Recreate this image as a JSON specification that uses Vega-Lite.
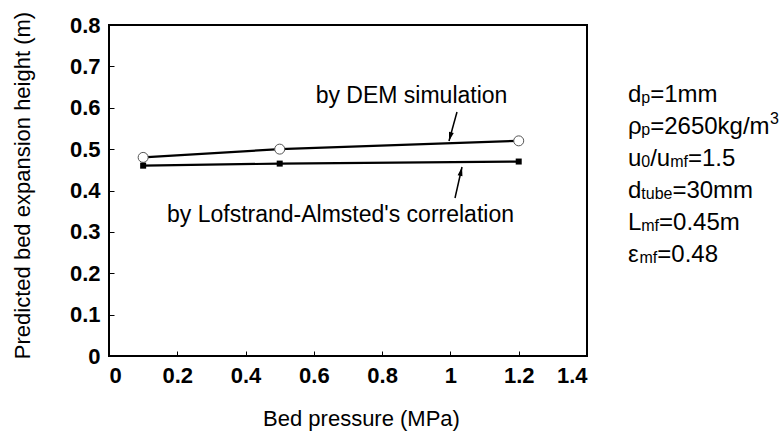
{
  "$schema": "https://vega.github.io/schema/vega-lite/v6.json",
  "width": 478,
  "height": 331,
  "autosize": {"type": "none"},
  "padding": {"left": 109, "top": 25, "right": 193, "bottom": 76},
  "background": "white",
  "config": {
    "font": "Liberation Sans",
    "view": {"stroke": "black", "strokeWidth": 2},
    "axis": {
      "domain": false,
      "grid": false,
      "labelFont": "Liberation Sans",
      "labelFontWeight": "bold",
      "labelFontSize": 22,
      "labelColor": "black",
      "titleFont": "Liberation Sans",
      "titleFontSize": 22,
      "titleFontWeight": "normal",
      "titleColor": "black"
    }
  },
  "datasets": {
    "series": [
      {"method": "DEM simulation", "pressure": 0.1, "height": 0.48},
      {"method": "DEM simulation", "pressure": 0.5, "height": 0.50},
      {"method": "DEM simulation", "pressure": 1.2, "height": 0.52},
      {"method": "Lofstrand-Almsted", "pressure": 0.1, "height": 0.46},
      {"method": "Lofstrand-Almsted", "pressure": 0.5, "height": 0.465},
      {"method": "Lofstrand-Almsted", "pressure": 1.2, "height": 0.47}
    ],
    "arrows": [
      {"arrow": "DEM", "x": 1.0192, "y": 0.5897, "x2": 0.9958, "y2": 0.5196},
      {"arrow": "LA", "x": 1.0134, "y": 0.3819, "x2": 1.0339, "y2": 0.4568}
    ],
    "notes": [
      {"label": "by DEM simulation", "x": 0.886, "y": 0.6115},
      {"label": "by Lofstrand-Almsted's correlation", "x": 0.678, "y": 0.3239}
    ],
    "conditions": [
      {"part": "d", "kind": "main", "x": 1.5201, "y": 0.6139},
      {"part": "p", "kind": "sub", "x": 1.5590, "y": 0.6139},
      {"part": "=1mm", "kind": "main", "x": 1.5851, "y": 0.6139},
      {"part": "ρ", "kind": "main", "x": 1.5201, "y": 0.5366},
      {"part": "p", "kind": "sub", "x": 1.5590, "y": 0.5366},
      {"part": "=2650kg/m", "kind": "main", "x": 1.5851, "y": 0.5366},
      {"part": "3", "kind": "sup", "x": 1.9360, "y": 0.5366},
      {"part": "u", "kind": "main", "x": 1.5201, "y": 0.4592},
      {"part": "0", "kind": "sub", "x": 1.5590, "y": 0.4592},
      {"part": "/u", "kind": "main", "x": 1.5851, "y": 0.4592},
      {"part": "mf", "kind": "sub", "x": 1.6437, "y": 0.4592},
      {"part": "=1.5", "kind": "main", "x": 1.6958, "y": 0.4592},
      {"part": "d", "kind": "main", "x": 1.5201, "y": 0.3819},
      {"part": "tube", "kind": "sub", "x": 1.5590, "y": 0.3819},
      {"part": "=30mm", "kind": "main", "x": 1.6501, "y": 0.3819},
      {"part": "L", "kind": "main", "x": 1.5201, "y": 0.3045},
      {"part": "mf", "kind": "sub", "x": 1.5590, "y": 0.3045},
      {"part": "=0.45m", "kind": "main", "x": 1.6111, "y": 0.3045},
      {"part": "ε", "kind": "main", "x": 1.5201, "y": 0.2272},
      {"part": "mf", "kind": "sub", "x": 1.5537, "y": 0.2272},
      {"part": "=0.48", "kind": "main", "x": 1.6059, "y": 0.2272}
    ]
  },
  "layer": [
    {
      "data": {"name": "series"},
      "transform": [{"filter": "datum.method === 'DEM simulation'"}],
      "mark": {"type": "line", "color": "black", "strokeWidth": 2.2},
      "encoding": {
        "x": {"field": "pressure", "type": "quantitative", "scale": {"domain": [0, 1.4], "nice": false, "zero": false},
              "axis": {"values": [0, 0.2, 0.4, 0.6, 0.8, 1, 1.2, 1.4], "format": "~g", "title": "Bed pressure (MPa)",
                       "ticks": true, "tickSize": 5, "offset": -5, "tickColor": "black", "tickWidth": 1, "zindex": 1, "labelPadding": 9,
                       "titleX": 252, "titleY": 74, "titleAlign": "center", "titleBaseline": "alphabetic"}},
        "y": {"field": "height", "type": "quantitative", "scale": {"domain": [0, 0.8], "nice": false, "zero": false},
              "axis": {"values": [0, 0.1, 0.2, 0.3, 0.4, 0.5, 0.6, 0.7, 0.8], "format": "~g", "title": "Predicted bed expansion height (m)",
                       "ticks": true, "tickSize": 5, "offset": -5, "tickColor": "black", "tickWidth": 1, "zindex": 1, "labelPadding": 9,
                       "titleX": -85, "titleY": 160, "titleAlign": "center", "titleBaseline": "alphabetic", "titleAngle": -90}}
      }
    },
    {
      "data": {"name": "series"},
      "transform": [{"filter": "datum.method === 'Lofstrand-Almsted'"}],
      "mark": {"type": "line", "color": "black", "strokeWidth": 2.2},
      "encoding": {
        "x": {"field": "pressure", "type": "quantitative", "scale": {"domain": [0, 1.4], "nice": false, "zero": false}},
        "y": {"field": "height", "type": "quantitative", "scale": {"domain": [0, 0.8], "nice": false, "zero": false}}
      }
    },
    {
      "data": {"name": "series"},
      "transform": [{"filter": "datum.method === 'DEM simulation'"}],
      "mark": {"type": "point", "shape": "circle", "filled": true, "fill": "white", "stroke": "#555555", "strokeWidth": 1, "size": 100, "opacity": 1},
      "encoding": {
        "x": {"field": "pressure", "type": "quantitative", "scale": {"domain": [0, 1.4], "nice": false, "zero": false}},
        "y": {"field": "height", "type": "quantitative", "scale": {"domain": [0, 0.8], "nice": false, "zero": false}}
      }
    },
    {
      "data": {"name": "series"},
      "transform": [{"filter": "datum.method === 'Lofstrand-Almsted'"}],
      "mark": {"type": "point", "shape": "square", "filled": true, "color": "black", "size": 36, "opacity": 1},
      "encoding": {
        "x": {"field": "pressure", "type": "quantitative", "scale": {"domain": [0, 1.4], "nice": false, "zero": false}},
        "y": {"field": "height", "type": "quantitative", "scale": {"domain": [0, 0.8], "nice": false, "zero": false}}
      }
    },
    {
      "data": {"name": "arrows"},
      "mark": {"type": "rule", "color": "black", "strokeWidth": 1.5},
      "encoding": {
        "x": {"field": "x", "type": "quantitative", "scale": {"domain": [0, 1.4], "nice": false, "zero": false}},
        "y": {"field": "y", "type": "quantitative", "scale": {"domain": [0, 0.8], "nice": false, "zero": false}},
        "x2": {"field": "x2"},
        "y2": {"field": "y2"}
      }
    },
    {
      "data": {"name": "arrows"},
      "transform": [{"filter": "datum.arrow === 'DEM'"}],
      "mark": {"type": "point", "shape": "M0,0L0.55,2L-0.55,2Z", "filled": true, "color": "black", "size": 81, "angle": 195.4, "opacity": 1},
      "encoding": {
        "x": {"field": "x2", "type": "quantitative", "scale": {"domain": [0, 1.4], "nice": false, "zero": false}},
        "y": {"field": "y2", "type": "quantitative", "scale": {"domain": [0, 0.8], "nice": false, "zero": false}}
      }
    },
    {
      "data": {"name": "arrows"},
      "transform": [{"filter": "datum.arrow === 'LA'"}],
      "mark": {"type": "point", "shape": "M0,0L0.55,2L-0.55,2Z", "filled": true, "color": "black", "size": 81, "angle": 12.7, "opacity": 1},
      "encoding": {
        "x": {"field": "x2", "type": "quantitative", "scale": {"domain": [0, 1.4], "nice": false, "zero": false}},
        "y": {"field": "y2", "type": "quantitative", "scale": {"domain": [0, 0.8], "nice": false, "zero": false}}
      }
    },
    {
      "data": {"name": "notes"},
      "mark": {"type": "text", "font": "Liberation Sans", "fontSize": 23, "color": "black", "align": "center", "baseline": "alphabetic"},
      "encoding": {
        "x": {"field": "x", "type": "quantitative", "scale": {"domain": [0, 1.4], "nice": false, "zero": false}},
        "y": {"field": "y", "type": "quantitative", "scale": {"domain": [0, 0.8], "nice": false, "zero": false}},
        "text": {"field": "label"}
      }
    },
    {
      "data": {"name": "conditions"},
      "transform": [{"filter": "datum.kind === 'main'"}],
      "mark": {"type": "text", "font": "Liberation Sans", "fontSize": 24, "color": "black", "align": "left", "baseline": "alphabetic"},
      "encoding": {
        "x": {"field": "x", "type": "quantitative", "scale": {"domain": [0, 1.4], "nice": false, "zero": false}},
        "y": {"field": "y", "type": "quantitative", "scale": {"domain": [0, 0.8], "nice": false, "zero": false}},
        "text": {"field": "part"}
      }
    },
    {
      "data": {"name": "conditions"},
      "transform": [{"filter": "datum.kind === 'sub'"}],
      "mark": {"type": "text", "font": "Liberation Sans", "fontSize": 16, "color": "black", "align": "left", "baseline": "alphabetic", "dy": 1},
      "encoding": {
        "x": {"field": "x", "type": "quantitative", "scale": {"domain": [0, 1.4], "nice": false, "zero": false}},
        "y": {"field": "y", "type": "quantitative", "scale": {"domain": [0, 0.8], "nice": false, "zero": false}},
        "text": {"field": "part"}
      }
    },
    {
      "data": {"name": "conditions"},
      "transform": [{"filter": "datum.kind === 'sup'"}],
      "mark": {"type": "text", "font": "Liberation Sans", "fontSize": 16, "color": "black", "align": "left", "baseline": "alphabetic", "dy": -10},
      "encoding": {
        "x": {"field": "x", "type": "quantitative", "scale": {"domain": [0, 1.4], "nice": false, "zero": false}},
        "y": {"field": "y", "type": "quantitative", "scale": {"domain": [0, 0.8], "nice": false, "zero": false}},
        "text": {"field": "part"}
      }
    }
  ]
}
